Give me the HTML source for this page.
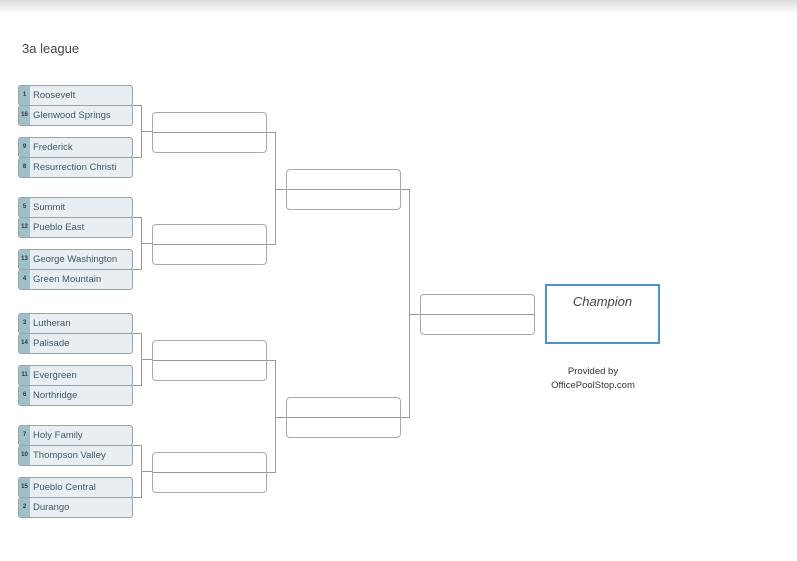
<!DOCTYPE html>
<html><head><style>
body{margin:0;width:797px;height:561px;background:#fff;position:relative;overflow:hidden;font-family:"Liberation Sans",sans-serif}
.sh{position:absolute;left:0;top:0;width:797px;height:14px;background:linear-gradient(#dcdcdc,#fff)}
.t{position:absolute;left:18px;width:113px;height:19px;background:#e9eef2;border:1px solid #9aa3a8;border-radius:3px;font-size:9.5px;color:#3f5866;line-height:19px;overflow:hidden}
.t b{display:inline-block;width:11px;height:19px;background:#9fc0c8;color:#333;font-size:6px;text-align:center;margin-right:3px;vertical-align:top}
.g{position:absolute;width:113px;height:39px;border:1px solid #aaa;border-radius:4px;background:#fff}
.g:after{content:"";position:absolute;left:0;right:0;top:19px;border-top:1px solid #999}
</style></head><body>
<div class="sh"></div>
<div style="position:absolute;left:22px;top:41px;font-size:13px;color:#444">3a league</div>
<div class="t" style="top:85px"><b>1</b>Roosevelt</div>
<div class="t" style="top:105px"><b>16</b>Glenwood Springs</div>
<div class="t" style="top:137px"><b>9</b>Frederick</div>
<div class="t" style="top:157px"><b>8</b>Resurrection Christi</div>
<div class="t" style="top:197px"><b>5</b>Summit</div>
<div class="t" style="top:217px"><b>12</b>Pueblo East</div>
<div class="t" style="top:249px"><b>13</b>George Washington</div>
<div class="t" style="top:269px"><b>4</b>Green Mountain</div>
<div class="t" style="top:313px"><b>3</b>Lutheran</div>
<div class="t" style="top:333px"><b>14</b>Palisade</div>
<div class="t" style="top:365px"><b>11</b>Evergreen</div>
<div class="t" style="top:385px"><b>6</b>Northridge</div>
<div class="t" style="top:425px"><b>7</b>Holy Family</div>
<div class="t" style="top:445px"><b>10</b>Thompson Valley</div>
<div class="t" style="top:477px"><b>15</b>Pueblo Central</div>
<div class="t" style="top:497px"><b>2</b>Durango</div>
<svg style="position:absolute;left:0;top:0" width="797" height="561" stroke="#999" stroke-width="1" fill="none">
<path d="M132 105.5H141.5V157.5H132M141.5 131.5H152"/>
<path d="M132 217.5H141.5V269.5H132M141.5 243.5H152"/>
<path d="M132 333.5H141.5V385.5H132M141.5 359.5H152"/>
<path d="M132 445.5H141.5V497.5H132M141.5 471.5H152"/>
<path d="M266 132.5H275.5V244.5H266M275.5 189.5H286"/>
<path d="M266 360.5H275.5V472.5H266M275.5 417.5H286"/>
<path d="M400 189.5H409.5V417.5H400M409.5 314.5H420"/>
</svg>
<div class="g" style="left:152px;top:112px"></div>
<div class="g" style="left:152px;top:224px"></div>
<div class="g" style="left:152px;top:340px"></div>
<div class="g" style="left:152px;top:452px"></div>
<div class="g" style="left:286px;top:169px"></div>
<div class="g" style="left:286px;top:397px"></div>
<div class="g" style="left:420px;top:294px"></div>
<div style="position:absolute;left:545px;top:284px;width:111px;height:56px;border:2px solid #4a95d0;text-align:center;font-style:italic;font-size:13px;color:#444;line-height:32px">Champion</div>
<div style="position:absolute;left:537px;top:365px;width:112px;text-align:center;font-size:9.5px;color:#333;line-height:14px">Provided by<br>OfficePoolStop.com</div>
</body></html>
